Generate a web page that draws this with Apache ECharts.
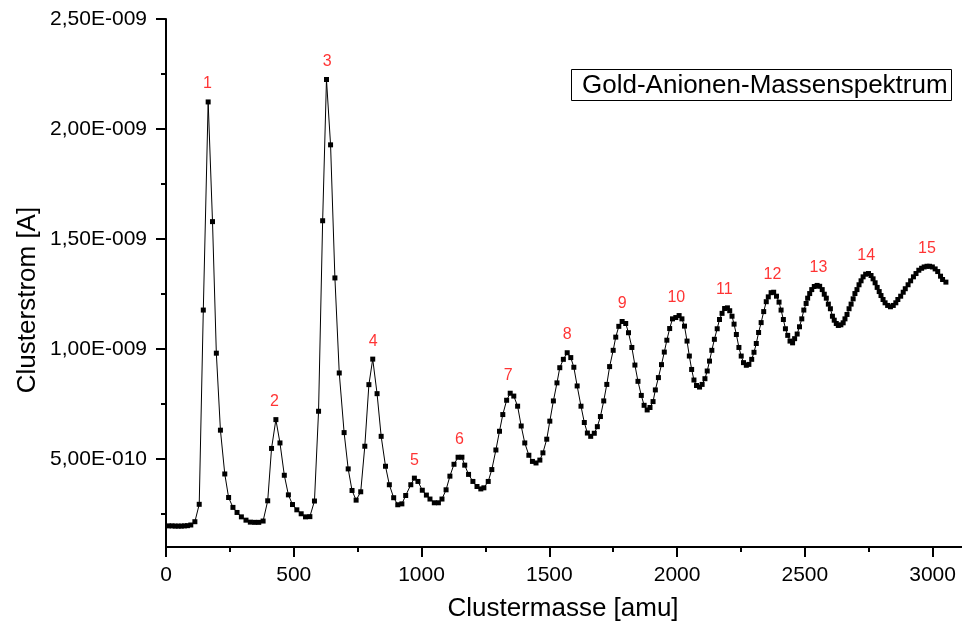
<!DOCTYPE html>
<html>
<head>
<meta charset="utf-8">
<title>Gold-Anionen-Massenspektrum</title>
<script src="https://cdn.jsdelivr.net/npm/echarts@6/dist/echarts.min.js"></script>
<style>
  html, body { margin: 0; padding: 0; background: #fff; }
  #chart { width: 962px; height: 630px; }
</style>
</head>
<body>
<div id="chart"></div>
<script>
// Cluster mass (amu) of each measured point
const massAmu = [
  10, 24, 36, 48, 60, 72, 84, 97, 113, 130, 146, 165, 182, 197, 213, 230, 245, 262, 278, 295,
  313, 330, 347, 363, 380, 398, 413, 430, 446, 463, 479, 495, 512, 529, 546, 563, 581, 597, 613, 628,
  644, 661, 678, 697, 713, 728, 744, 762, 778, 794, 809, 826, 842, 859, 874, 891, 907, 923, 938, 958,
  972, 986, 1003, 1019, 1033, 1050, 1066, 1080, 1096, 1111, 1127, 1143, 1158, 1169, 1184, 1201, 1217, 1232, 1244, 1261,
  1275, 1291, 1305, 1318, 1333, 1347, 1361, 1376, 1390, 1404, 1420, 1434, 1448, 1463, 1475, 1490, 1502, 1516, 1530, 1541,
  1555, 1570, 1584, 1596, 1609, 1624, 1637, 1649, 1662, 1676, 1688, 1700, 1713, 1725, 1736, 1750, 1760, 1772, 1785, 1799,
  1810, 1823, 1835, 1847, 1860, 1871, 1883, 1894, 1906, 1915, 1927, 1939, 1950, 1960, 1971, 1982, 1995, 2008, 2019, 2029,
  2039, 2048, 2057, 2066, 2076, 2088, 2098, 2109, 2118, 2127, 2136, 2146, 2157, 2166, 2176, 2186, 2197, 2206, 2215, 2223,
  2232, 2242, 2251, 2260, 2271, 2281, 2292, 2301, 2310, 2319, 2329, 2339, 2349, 2357, 2368, 2378, 2389, 2399, 2407, 2416,
  2424, 2433, 2442, 2452, 2460, 2470, 2479, 2488, 2496, 2505, 2511, 2519, 2527, 2537, 2548, 2558, 2568, 2576, 2584, 2592,
  2600, 2608, 2615, 2623, 2631, 2641, 2650, 2657, 2665, 2673, 2681, 2689, 2696, 2704, 2712, 2720, 2728, 2738, 2749, 2759,
  2767, 2775, 2783, 2791, 2798, 2806, 2814, 2824, 2835, 2846, 2856, 2864, 2875, 2885, 2893, 2904, 2914, 2925, 2935, 2946,
  2957, 2967, 2978, 2988, 2999, 3010, 3020, 3031, 3039, 3052
];

// Cluster current in units of 1E-009 A (nA)
const currentNA = [
  0.196, 0.196, 0.195, 0.195, 0.195, 0.196, 0.197, 0.200, 0.215, 0.294, 1.177, 2.123, 1.579, 0.981, 0.631, 0.432, 0.325, 0.280, 0.257, 0.237,
  0.222, 0.213, 0.212, 0.212, 0.218, 0.310, 0.548, 0.679, 0.573, 0.426, 0.337, 0.293, 0.269, 0.251, 0.237, 0.238, 0.309, 0.717, 1.583, 2.225,
  1.928, 1.323, 0.891, 0.620, 0.455, 0.357, 0.313, 0.351, 0.558, 0.838, 0.954, 0.797, 0.603, 0.467, 0.383, 0.324, 0.292, 0.296, 0.334, 0.383,
  0.413, 0.398, 0.358, 0.336, 0.318, 0.301, 0.301, 0.318, 0.360, 0.422, 0.476, 0.508, 0.508, 0.472, 0.430, 0.398, 0.375, 0.364, 0.369, 0.398,
  0.452, 0.541, 0.626, 0.702, 0.767, 0.799, 0.786, 0.740, 0.650, 0.573, 0.517, 0.489, 0.482, 0.495, 0.528, 0.590, 0.672, 0.764, 0.846, 0.915,
  0.953, 0.983, 0.961, 0.917, 0.832, 0.740, 0.666, 0.618, 0.603, 0.617, 0.647, 0.693, 0.764, 0.839, 0.920, 0.994, 1.054, 1.103, 1.125, 1.116,
  1.074, 1.007, 0.927, 0.853, 0.789, 0.744, 0.723, 0.734, 0.761, 0.814, 0.870, 0.929, 0.986, 1.040, 1.093, 1.137, 1.143, 1.152, 1.137, 1.104,
  1.036, 0.968, 0.907, 0.859, 0.834, 0.827, 0.839, 0.865, 0.900, 0.945, 0.994, 1.044, 1.092, 1.134, 1.162, 1.184, 1.187, 1.174, 1.149, 1.113,
  1.066, 1.007, 0.968, 0.938, 0.926, 0.930, 0.953, 0.985, 1.025, 1.075, 1.120, 1.170, 1.215, 1.237, 1.256, 1.258, 1.240, 1.213, 1.177, 1.134,
  1.092, 1.062, 1.036, 1.028, 1.047, 1.068, 1.101, 1.137, 1.177, 1.207, 1.231, 1.252, 1.270, 1.284, 1.289, 1.285, 1.270, 1.249, 1.231, 1.204,
  1.183, 1.149, 1.131, 1.116, 1.107, 1.110, 1.119, 1.137, 1.157, 1.183, 1.204, 1.228, 1.252, 1.270, 1.292, 1.310, 1.328, 1.340, 1.343, 1.334,
  1.319, 1.301, 1.280, 1.261, 1.243, 1.225, 1.210, 1.198, 1.192, 1.198, 1.210, 1.225, 1.240, 1.258, 1.274, 1.292, 1.310, 1.328, 1.343, 1.358,
  1.367, 1.373, 1.376, 1.376, 1.373, 1.364, 1.352, 1.331, 1.316, 1.304
];

// Cluster size labels placed over each peak
const peakLabels = ['1', '2', '3', '4', '5', '6', '7', '8', '9', '10', '11', '12', '13', '14', '15'];
const peakMass = [162, 424, 631, 811, 972, 1148, 1339, 1570, 1785, 1997, 2185, 2373, 2553, 2740, 2978];
const peakCurrent = [2.123, 0.679, 2.225, 0.954, 0.413, 0.508, 0.799, 0.983, 1.125, 1.152, 1.187, 1.258, 1.289, 1.343, 1.376];

// Axis ticks
const xTickValues = [0, 500, 1000, 1500, 2000, 2500, 3000];
const xTickLabels = ['0', '500', '1000', '1500', '2000', '2500', '3000'];
const xMinorTickValues = [250, 750, 1250, 1750, 2250, 2750];
const yTickValues = [0.5, 1.0, 1.5, 2.0, 2.5];
const yTickLabels = ['5,00E-010', '1,00E-009', '1,50E-009', '2,00E-009', '2,50E-009'];
const yMinorTickValues = [0.25, 0.75, 1.25, 1.75, 2.25];

const FONT = '"Liberation Sans", Arial, sans-serif';

const spectrum = massAmu.map((m, i) => [m, currentNA[i]]);
const peaks = peakMass.map((m, i) => ({ value: [m, peakCurrent[i]], name: peakLabels[i] }));

const X_MIN = 0, X_MAX = 3115, Y_MIN = 0.1, Y_MAX = 2.5;
const axisLineStyle = { color: '#000', width: 2 };

function lookupLabel(values, labels) {
  return (v) => {
    const i = values.findIndex(t => Math.abs(t - v) < 1e-6);
    return i >= 0 ? labels[i] : '';
  };
}

const chart = echarts.init(document.getElementById('chart'), null, { renderer: 'canvas' });

chart.setOption({
  animation: false,
  backgroundColor: '#fff',
  title: {
    text: 'Gold-Anionen-Massenspektrum',
    left: 571,
    top: 69,
    padding: [3, 4, 2, 11],
    borderColor: '#000',
    borderWidth: 1,
    textStyle: { fontFamily: FONT, fontSize: 26, fontWeight: 'normal', color: '#000', lineHeight: 27 }
  },
  grid: { left: 166, right: 0, top: 19, bottom: 83, containLabel: false },
  xAxis: [
    {
      type: 'value', min: X_MIN, max: X_MAX,
      axisLine: { show: true, lineStyle: axisLineStyle },
      axisTick: { show: true, inside: false, length: 10, customValues: xTickValues, lineStyle: axisLineStyle },
      axisLabel: {
        show: true, customValues: xTickValues, margin: 18,
        fontFamily: FONT, fontSize: 21, color: '#000',
        formatter: lookupLabel(xTickValues, xTickLabels)
      },
      splitLine: { show: false }
    },
    {
      type: 'value', min: X_MIN, max: X_MAX, position: 'bottom',
      axisLine: { show: false },
      axisTick: { show: true, inside: false, length: 5, customValues: xMinorTickValues, lineStyle: axisLineStyle },
      axisLabel: { show: false },
      splitLine: { show: false }
    }
  ],
  yAxis: [
    {
      type: 'value', min: Y_MIN, max: Y_MAX,
      axisLine: { show: true, lineStyle: axisLineStyle },
      axisTick: { show: true, inside: false, length: 10, customValues: yTickValues, lineStyle: axisLineStyle },
      axisLabel: {
        show: true, customValues: yTickValues, margin: 19,
        fontFamily: FONT, fontSize: 21, color: '#000',
        formatter: lookupLabel(yTickValues, yTickLabels)
      },
      splitLine: { show: false }
    },
    {
      type: 'value', min: Y_MIN, max: Y_MAX, position: 'left',
      axisLine: { show: false },
      axisTick: { show: true, inside: false, length: 5, customValues: yMinorTickValues, lineStyle: axisLineStyle },
      axisLabel: { show: false },
      splitLine: { show: false }
    }
  ],
  graphic: [
    {
      type: 'text', x: 28, y: 300, rotation: Math.PI / 2,
      style: {
        text: 'Clusterstrom [A]', font: '26px ' + FONT, fill: '#000',
        textAlign: 'center', textVerticalAlign: 'middle'
      }
    },
    {
      type: 'text', x: 563, y: 609,
      style: {
        text: 'Clustermasse [amu]', font: '26px ' + FONT, fill: '#000',
        textAlign: 'center', textVerticalAlign: 'middle'
      }
    }
  ],
  series: [
    {
      type: 'line',
      xAxisIndex: 0, yAxisIndex: 0,
      data: spectrum,
      showSymbol: true,
      showAllSymbol: true,
      symbol: 'rect',
      symbolSize: 5,
      itemStyle: { color: '#000' },
      lineStyle: { color: '#000', width: 1 },
      z: 3
    },
    {
      type: 'scatter',
      xAxisIndex: 0, yAxisIndex: 0,
      data: peaks,
      symbolSize: 0,
      itemStyle: { color: 'transparent' },
      label: {
        show: true, position: 'top', distance: 10,
        formatter: (p) => p.name,
        fontFamily: FONT, fontSize: 16, color: '#ff0000'
      },
      z: 4
    }
  ]
});
</script>
</body>
</html>
